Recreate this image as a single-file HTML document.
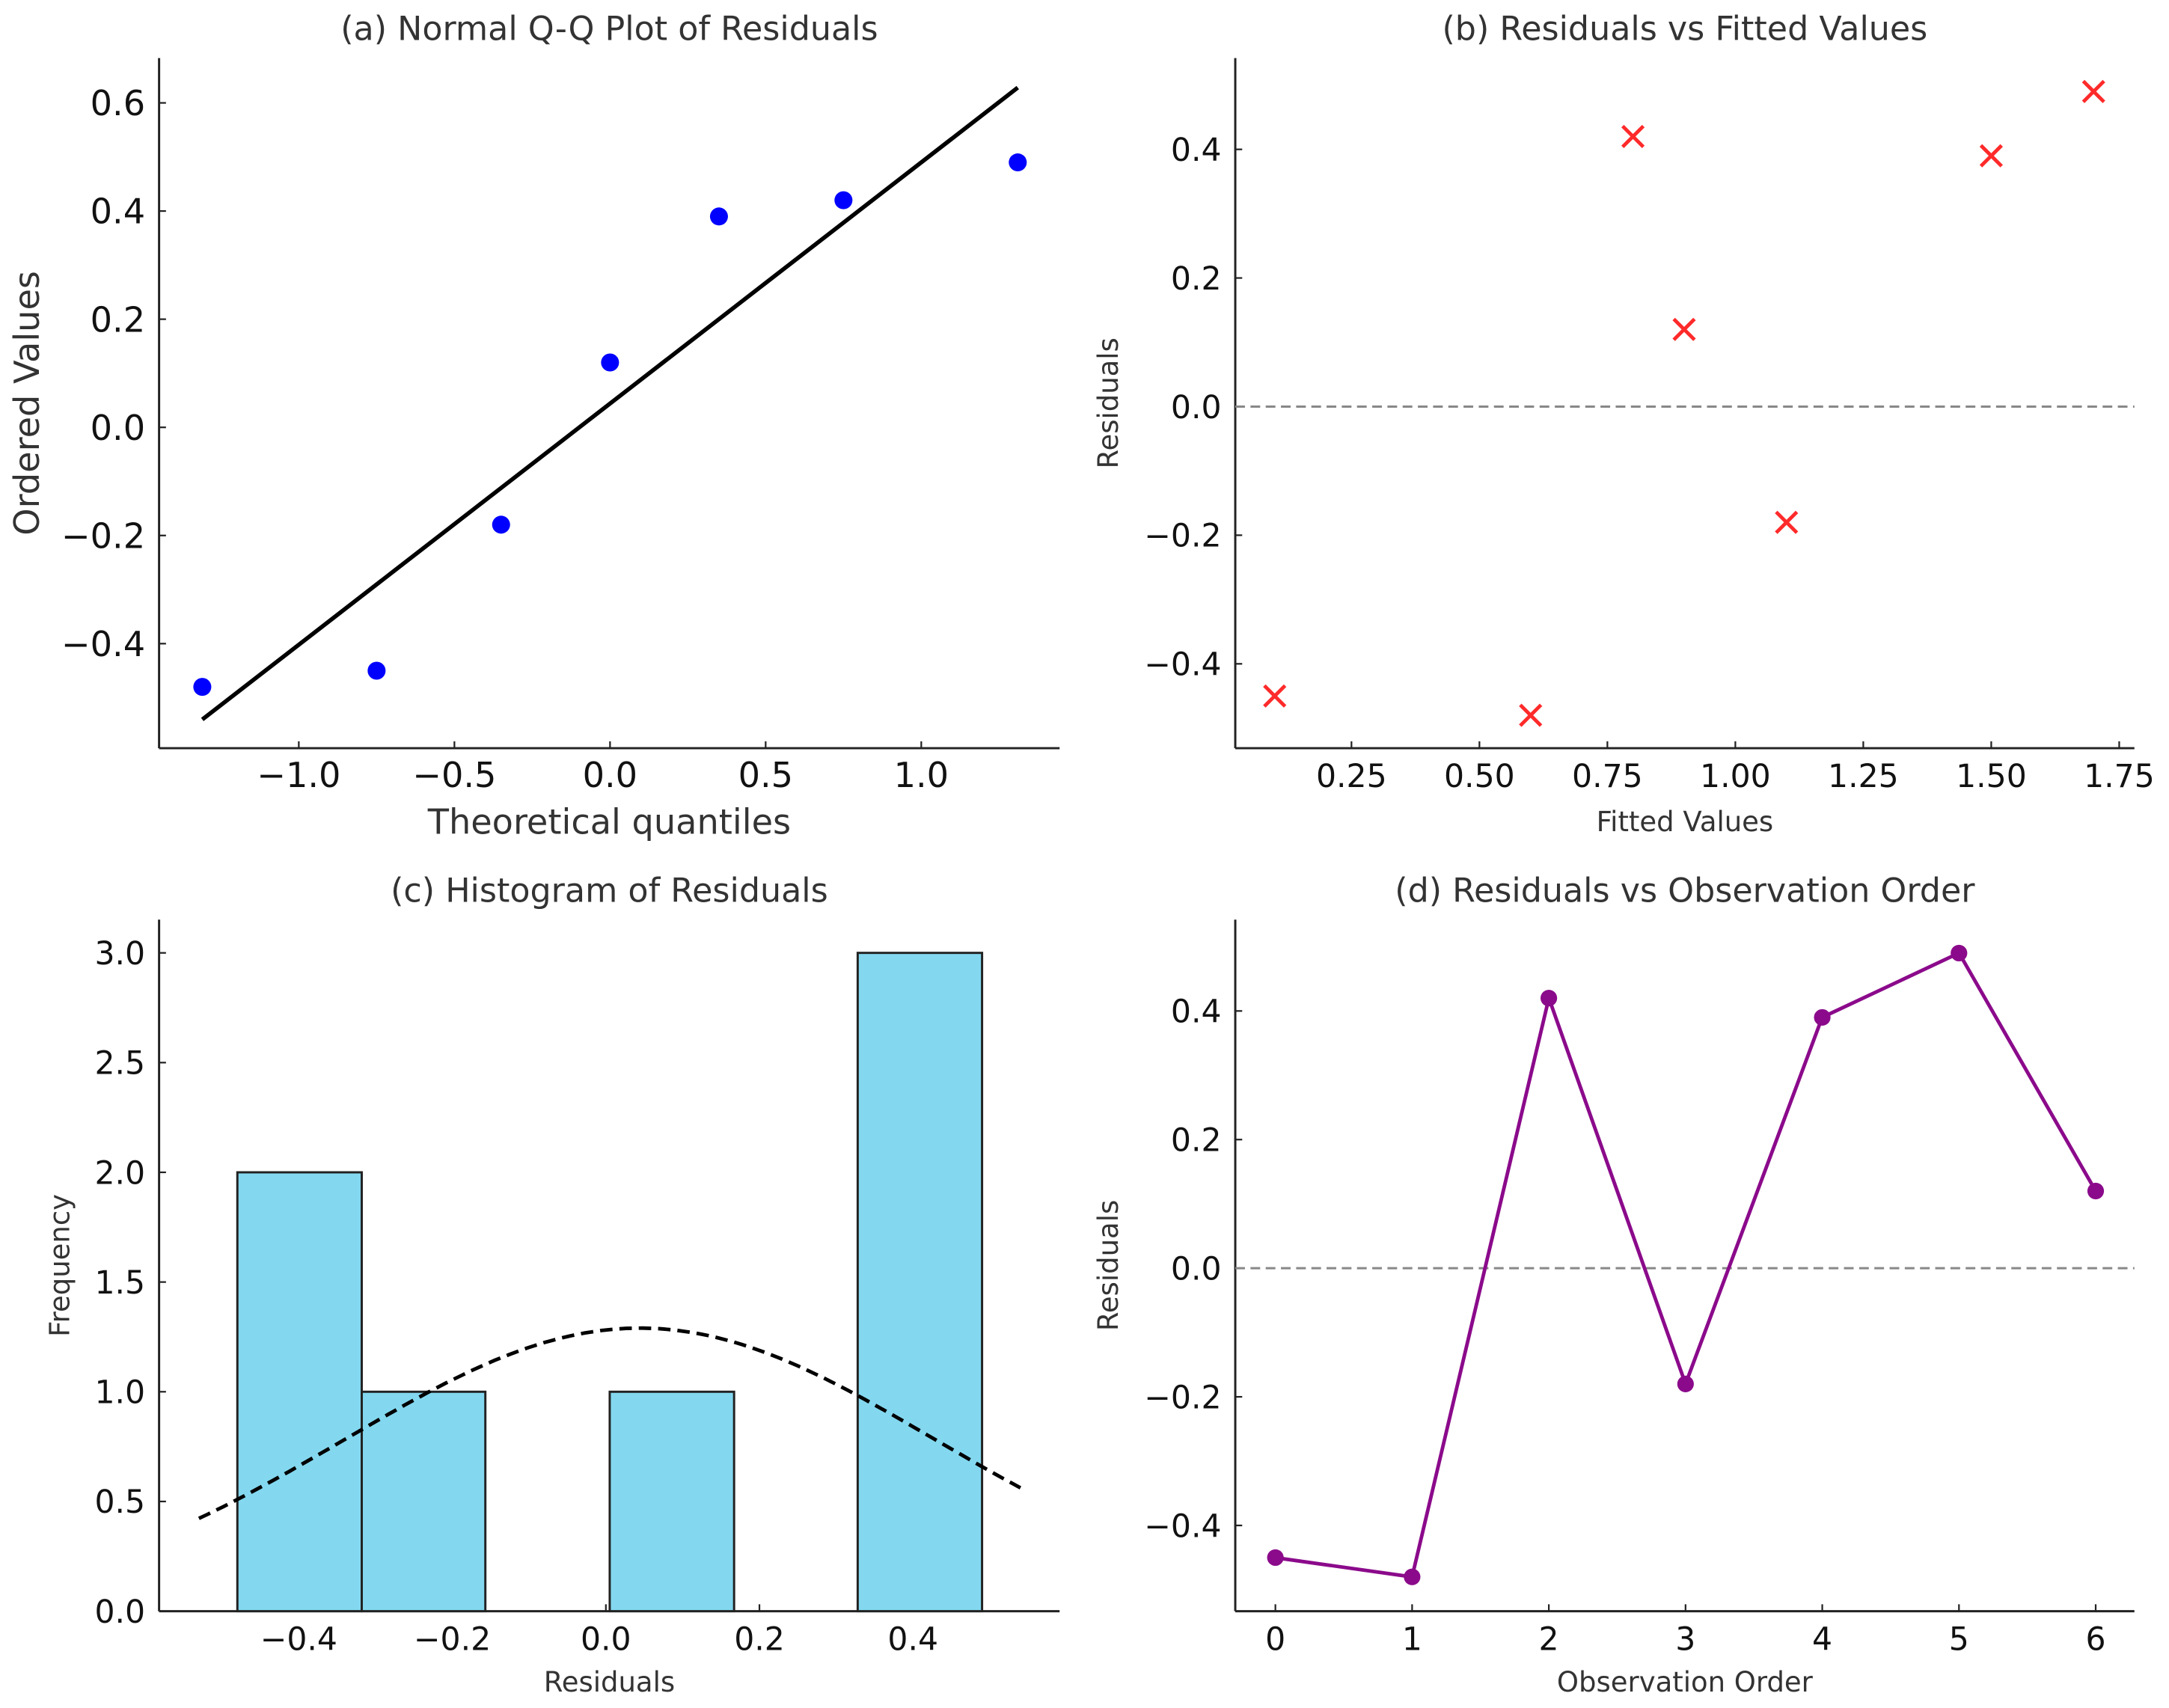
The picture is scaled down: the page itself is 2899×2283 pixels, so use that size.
<!DOCTYPE html>
<html><head><meta charset="utf-8">
<style>
html,body{margin:0;padding:0;background:#fff;}
svg{display:block;}
text{font-family:"DejaVu Sans","Liberation Sans",sans-serif;}
</style></head>
<body>
<svg id="fig" width="2899" height="2283" viewBox="0 0 1568 1235" preserveAspectRatio="none" xmlns="http://www.w3.org/2000/svg"></svg>
<script>
// ---- data ----
const qqTheoretical = [-1.31, -0.75, -0.35, 0.0, 0.35, 0.75, 1.31];
const qqOrdered = [-0.48, -0.45, -0.18, 0.12, 0.39, 0.42, 0.49];
const qqLineSlope = 0.446;
const qqLineIntercept = 0.044;
const fittedValues = [0.1, 0.6, 0.8, 0.9, 1.1, 1.5, 1.7];
const fittedResiduals = [-0.45, -0.48, 0.42, 0.12, -0.18, 0.39, 0.49];
const histEdges = [-0.48, -0.318, -0.157, 0.005, 0.167, 0.328, 0.49];
const histCounts = [2, 1, 0, 1, 0, 3];
const normMean = 0.0443;
const normStd = 0.3845;
const normPeak = 1.29;
const obsOrder = [0, 1, 2, 3, 4, 5, 6];
const obsResiduals = [-0.45, -0.48, 0.42, -0.18, 0.39, 0.49, 0.12];
const qqXTicks = [-1.0, -0.5, 0.0, 0.5, 1.0];
const qqYTicks = [-0.4, -0.2, 0.0, 0.2, 0.4, 0.6];
const fitXTicks = [0.25, 0.5, 0.75, 1.0, 1.25, 1.5, 1.75];
const resYTicks = [-0.4, -0.2, 0.0, 0.2, 0.4];
const histXTicks = [-0.4, -0.2, 0.0, 0.2, 0.4];
const histYTicks = [0, 0.5, 1.0, 1.5, 2.0, 2.5, 3.0];
const obsXTicks = [0, 1, 2, 3, 4, 5, 6];

const NS = "http://www.w3.org/2000/svg";
const svg = document.getElementById('fig');
function el(tag, attrs, parent) {
  const e = document.createElementNS(NS, tag);
  for (const k in attrs) e.setAttribute(k, attrs[k]);
  (parent || svg).appendChild(e);
  return e;
}
function lin(d0, d1, r0, r1) { return v => r0 + (v - d0) * (r1 - r0) / (d1 - d0); }
const fmtM = s => s.replace('-', '\u2212');

function axes(name, L, R, T, B, xs, ys, xt, yt, xfmt, yfmt, fs, title, xl, yl, lfs, ylx, xly) {
  const g = el('g', {});
  
  
  el('line', {x1: L, y1: T, x2: L, y2: B, stroke: '#222', 'stroke-width': 1.6}, g);
  el('line', {x1: L, y1: B, x2: R, y2: B, stroke: '#222', 'stroke-width': 1.6}, g);
  xt.forEach(v => {
    const x = xs(v);
    el('line', {x1: x, y1: B, x2: x, y2: B - 5, stroke: '#222', 'stroke-width': 1.2}, g);
    const t = el('text', {x: x, y: B + 28, 'text-anchor': 'middle', 'font-size': fs, fill: '#111'}, g);
    t.textContent = fmtM(xfmt(v));
    
    
  });
  yt.forEach(v => {
    const y = ys(v);
    el('line', {x1: L, y1: y, x2: L + 5, y2: y, stroke: '#222', 'stroke-width': 1.2}, g);
    const t = el('text', {x: L - 10, y: y + fs * 0.36, 'text-anchor': 'end', 'font-size': fs, fill: '#111'}, g);
    t.textContent = fmtM(yfmt(v));
    
    
  });
  const tt = el('text', {x: (L + R) / 2, y: T - 13, 'text-anchor': 'middle', 'font-size': 24, fill: '#333'}, g);
  tt.textContent = title;
  
  
  const xlab = el('text', {x: (L + R) / 2, y: B + xly, 'text-anchor': 'middle', 'font-size': lfs, fill: '#333'}, g);
  xlab.textContent = xl;
  
  
  const ylab = el('text', {x: ylx, y: (T + B) / 2, 'text-anchor': 'middle', 'font-size': lfs, fill: '#333', transform: `rotate(-90 ${ylx} ${(T + B) / 2})`}, g);
  ylab.textContent = yl;
  
  
}

// ---- (a) Q-Q ----
{
  const xs = lin(0, 0.5, 441, 553.5), ys = lin(0, 0.2, 309, 230.8);
  axes('qq-plot', 115, 766, 42, 541, xs, ys, qqXTicks, qqYTicks, v => v.toFixed(1), v => v.toFixed(1), 25, '(a) Normal Q-Q Plot of Residuals', 'Theoretical quantiles', 'Ordered Values', 25, 28, 62);
  const x0 = qqTheoretical[0], x1 = qqTheoretical[qqTheoretical.length - 1];
  const ln = el('line', {x1: xs(x0), y1: ys(qqLineIntercept + qqLineSlope * x0), x2: xs(x1), y2: ys(qqLineIntercept + qqLineSlope * x1), stroke: '#000', 'stroke-width': 3});
  
  
  qqTheoretical.forEach((q, i) => {
    const c = el('circle', {cx: xs(q), cy: ys(qqOrdered[i]), r: 6.5, fill: '#0000ff'});
    
    
  });
}
// ---- (b) Residuals vs fitted ----
{
  const xs = lin(0.25, 1.75, 977, 1532), ys = lin(0, 0.4, 294, 108);
  axes('fitted-plot', 893, 1543, 42, 541, xs, ys, fitXTicks, resYTicks, v => v.toFixed(2), v => v.toFixed(1), 23, '(b) Residuals vs Fitted Values', 'Fitted Values', 'Residuals', 20, 808, 60);
  const z = el('line', {x1: 893, y1: ys(0), x2: 1543, y2: ys(0), stroke: '#888', 'stroke-width': 1.6, 'stroke-dasharray': '7 4'});
  
  
  fittedValues.forEach((f, i) => {
    const x = xs(f), y = ys(fittedResiduals[i]), d = 7.5;
    const p = el('path', {d: `M${x - d},${y - d}L${x + d},${y + d}M${x - d},${y + d}L${x + d},${y - d}`, stroke: '#ff2a2a', 'stroke-width': 2.6, fill: 'none'});
    
    
  });
}
// ---- (c) Histogram ----
{
  const xs = lin(0, 0.4, 438, 660), ys = lin(0, 3, 1165, 689);
  axes('histogram', 115, 766, 665, 1165, xs, ys, histXTicks, histYTicks, v => v.toFixed(1), v => v.toFixed(1), 23, '(c) Histogram of Residuals', 'Residuals', 'Frequency', 20, 50, 58);
  histCounts.forEach((c, i) => {
    if (c === 0) return;
    const r = el('rect', {x: xs(histEdges[i]), y: ys(c), width: xs(histEdges[i + 1]) - xs(histEdges[i]), height: ys(0) - ys(c), fill: '#83d8ef', stroke: '#222', 'stroke-width': 1.6});
    
    
  });
  let d = '';
  for (let k = 0; k <= 100; k++) {
    const v = -0.53 + k * (1.07 / 100);
    const f = normPeak * Math.exp(-0.5 * Math.pow((v - normMean) / normStd, 2));
    d += (k ? 'L' : 'M') + xs(v).toFixed(1) + ',' + ys(f).toFixed(1);
  }
  const p = el('path', {d: d, fill: 'none', stroke: '#000', 'stroke-width': 2.6, 'stroke-dasharray': '9 5'});
  
  
}
// ---- (d) Observation order ----
{
  const xs = lin(0, 6, 922, 1515), ys = lin(0, 0.4, 917, 731);
  axes('order-plot', 893, 1543, 665, 1165, xs, ys, obsXTicks, resYTicks, v => String(v), v => v.toFixed(1), 23, '(d) Residuals vs Observation Order', 'Observation Order', 'Residuals', 20, 808, 58);
  const z = el('line', {x1: 893, y1: ys(0), x2: 1543, y2: ys(0), stroke: '#888', 'stroke-width': 1.6, 'stroke-dasharray': '7 4'});
  
  
  const pts = obsOrder.map((o, i) => xs(o).toFixed(1) + ',' + ys(obsResiduals[i]).toFixed(1)).join(' ');
  const pl = el('polyline', {points: pts, fill: 'none', stroke: '#8b0a8b', 'stroke-width': 2.6});
  
  
  obsOrder.forEach((o, i) => {
    const c = el('circle', {cx: xs(o), cy: ys(obsResiduals[i]), r: 6, fill: '#8b0a8b'});
    
    
  });
}
</script>
</body></html>
